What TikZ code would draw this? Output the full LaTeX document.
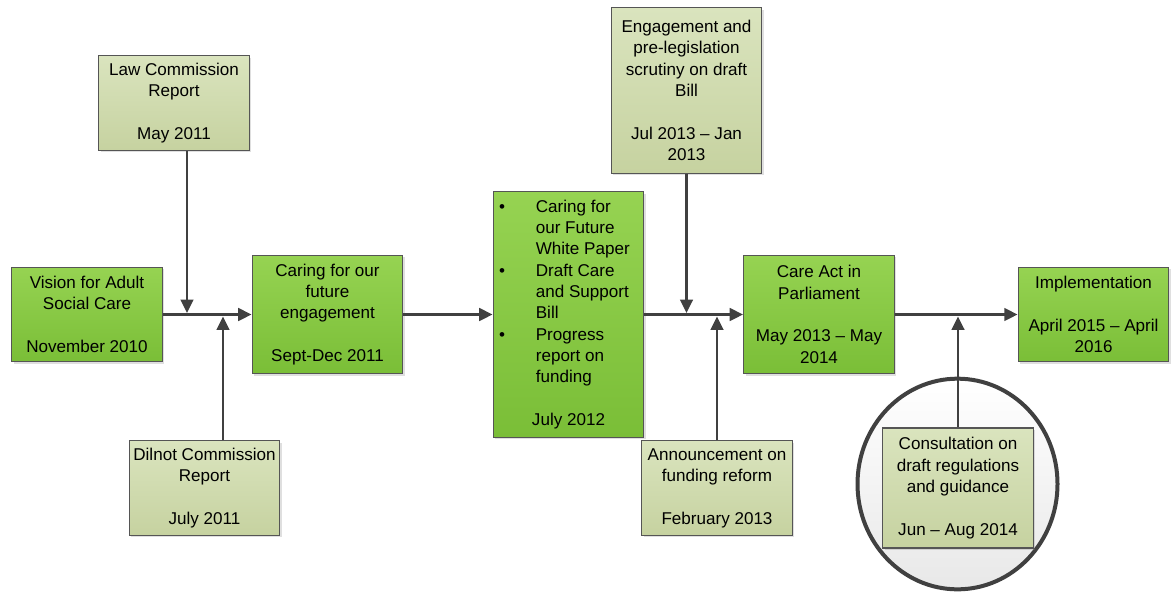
\documentclass[tikz,border=0pt]{standalone}
\usepackage{fontspec}
\setmainfont{Liberation Sans}
\usetikzlibrary{arrows.meta,shadows}

\definecolor{greentop}{RGB}{150,211,82}
\definecolor{greenbot}{RGB}{122,190,55}
\definecolor{paletop}{RGB}{218,228,190}
\definecolor{palebot}{RGB}{198,210,160}
\definecolor{boxline}{RGB}{85,85,85}
\definecolor{flowgray}{RGB}{64,64,64}

\newcommand{\boxfont}{\fontsize{12.8}{16}\selectfont}

\begin{document}
\begin{tikzpicture}[x=0.75pt,y=-0.75pt,
	stage/.style={draw=boxline,line width=0.9pt,top color=greentop,bottom color=greenbot,
		align=center,font=\boxfont,inner sep=0pt,minimum width=113pt,
		drop shadow={shadow xshift=1.6pt,shadow yshift=-1.6pt,opacity=0.25}},
	event/.style={stage,top color=paletop,bottom color=palebot},
	flow/.style={draw=flowgray,line width=1.7pt,-{Triangle[length=10pt,width=9.5pt]}},
	ring/.style={draw=flowgray,line width=3pt,top color=white,bottom color=black!9}]

	\useasboundingbox (0,0) rectangle (1176,592);

	\draw [ring] (957.5,484) ellipse [x radius=75pt,y radius=79pt];

	\node [stage,minimum height=71pt] (vision) at (87,314.5) {Vision for Adult\\Social Care\\[16pt]November 2010};
	\node [event,minimum height=71pt] (law) at (174,103) {Law Commission\\Report\\[16pt]May 2011};
	\node [event,minimum height=71pt] (dilnot) at (204.5,488) {Dilnot Commission\\Report\\[16pt]July 2011};
	\node [stage,minimum height=89pt] (caring) at (327.5,314.5) {Caring for our\\future\\engagement\\[16pt]Sept-Dec 2011};
	\node [stage,minimum height=184pt] (paper) at (568.5,314.5) {%
		\begin{tabular}{@{}p{32pt}@{}p{81pt}@{}}
			\hspace{4.5pt}\textbullet & Caring for\\
			& our Future\\
			& White Paper\\
			\hspace{4.5pt}\textbullet & Draft Care\\
			& and Support\\
			& Bill\\
			\hspace{4.5pt}\textbullet & Progress\\
			& report on\\
			& funding\\[16pt]
			\multicolumn{2}{@{}c@{}}{July 2012}
		\end{tabular}};
	\node [event,minimum height=124pt] (engage) at (686.5,90.5) {Engagement and\\pre-legislation\\scrutiny on draft\\Bill\\[16pt]Jul 2013 -- Jan\\2013};
	\node [event,minimum height=71pt] (announce) at (717,488) {Announcement on\\funding reform\\[16pt]February 2013};
	\node [stage,minimum height=89pt] (careact) at (819,314.5) {Care Act in\\Parliament\\[16pt]May 2013 -- May\\2014};
	\node [event,minimum height=90pt] (consult) at (958,488) {Consultation on\\draft regulations\\and guidance\\[16pt]Jun -- Aug 2014};
	\node [stage,minimum height=71pt] (implement) at (1093.5,314.5) {Implementation\\[16pt]April 2015 -- April\\2016};

	\coordinate (lawin) at (187,313);
	\coordinate (dilnotin) at (223,316.5);
	\coordinate (engagein) at (686.5,313);
	\coordinate (announcein) at (717,316.5);
	\coordinate (consultin) at (958,316.5);

	\draw [flow] (vision) -- (caring);
	\draw [flow] (caring) -- (paper);
	\draw [flow] (paper) -- (careact);
	\draw [flow] (careact) -- (implement);

	\draw [flow] (law.south -| lawin) -- (lawin);
	\draw [flow] (dilnot.north -| dilnotin) -- (dilnotin);
	\draw [flow] (engage) -- (engagein);
	\draw [flow] (announce) -- (announcein);
	\draw [flow] (consult) -- (consultin);
\end{tikzpicture}
\end{document}
